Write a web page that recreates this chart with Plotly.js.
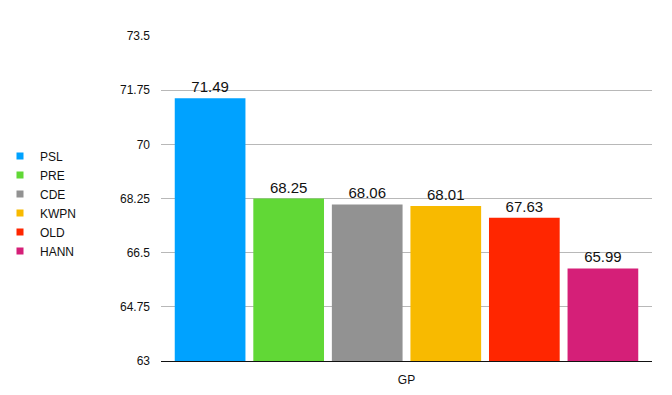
<!DOCTYPE html>
<html>
<head>
<meta charset="utf-8">
<script src="https://cdn.plot.ly/plotly-3.0.1.min.js"></script>
<style>html,body{margin:0;padding:0;background:#fff;}#chart{width:672px;height:395px;}</style>
</head>
<body>
<div id="chart"></div>
<script>
const category = ["GP"];
const breeds = ["PSL", "PRE", "CDE", "KWPN", "OLD", "HANN"];
const scores = [71.49, 68.25, 68.06, 68.01, 67.63, 65.99];
const colors = ["#00a2ff", "#61d836", "#929292", "#f8ba00", "#ff2600", "#d51f78"];
const yTicks = [63, 64.75, 66.5, 68.25, 70, 71.75, 73.5];
const yTickText = ["63", "64.75", "66.5", "68.25", "70", "71.75", "73.5"];

const barTraces = breeds.map((b, i) => ({
  type: "bar",
  name: b,
  x: category,
  y: [scores[i]],
  marker: {color: colors[i]},
  text: [scores[i].toFixed(2)],
  textposition: "outside",
  cliponaxis: false,
  textfont: {family: "Liberation Sans, Arial, sans-serif", size: 15, color: "#111"},
  hoverinfo: "none",
  showlegend: false
}));

const legendTraces = breeds.map((b, i) => ({
  type: "scatter",
  mode: "markers",
  name: b,
  x: category,
  y: [null],
  marker: {color: colors[i], symbol: "square", size: 7},
  hoverinfo: "none",
  showlegend: true
}));

const layout = {
  width: 672, height: 395,
  margin: {l: 161, r: 20, t: 36, b: 34},
  paper_bgcolor: "#fff", plot_bgcolor: "#fff",
  font: {family: "Liberation Sans, Arial, sans-serif", size: 12, color: "#111"},
  barmode: "group",
  bargap: 0.04,
  bargroupgap: 0.1,
  showlegend: true,
  legend: {xref: "container", x: 0, xanchor: "left", y: 0.485, yanchor: "middle", font: {size: 12, color: "#111"}, itemwidth: 30, tracegroupgap: 0, bgcolor: "rgba(0,0,0,0)"},
  xaxis: {type: "category", showgrid: false, showline: true, linecolor: "#111", linewidth: 1, ticks: "", ticklabelstandoff: 8, tickfont: {size: 12, color: "#111"}},
  yaxis: {range: [63, 73.5], tickvals: yTicks, ticktext: yTickText, showgrid: true, gridcolor: "#b8b8b8", gridwidth: 1, zeroline: false, showline: false, ticks: "", ticklabelstandoff: 10, tickfont: {size: 12, color: "#111"}, automargin: false}
};

Plotly.newPlot("chart", barTraces.concat(legendTraces), layout, {displayModeBar: false, staticPlot: true});
</script>
</body>
</html>
